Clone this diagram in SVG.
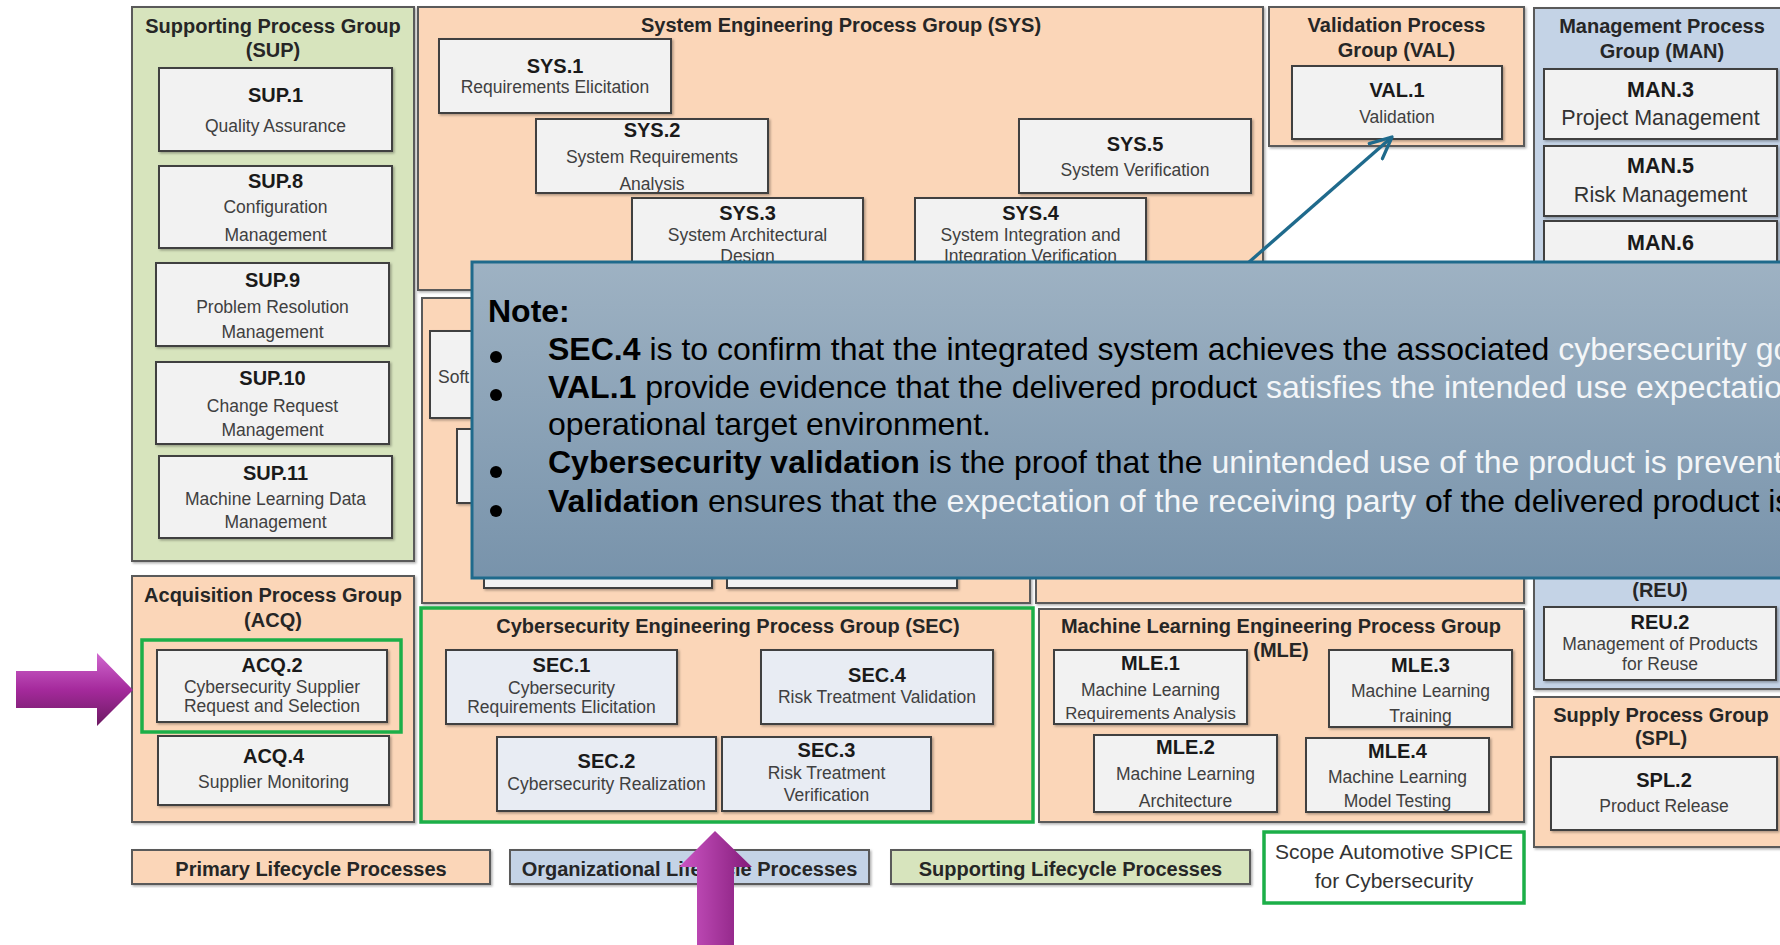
<svg xmlns="http://www.w3.org/2000/svg" width="1780" height="945" viewBox="0 0 1780 945">
  <defs>
    <style>
      .g-peach { fill: #fbd6b8; stroke: #5a5a5a; stroke-width: 2; }
      .g-green { fill: #d7e4bd; stroke: #5a5a5a; stroke-width: 2; }
      .g-blue  { fill: #c4d3e6; stroke: #5a5a5a; stroke-width: 2; }
      .box     { fill: #f2f2f2; stroke: #404040; stroke-width: 2; }
      .box-sec { fill: #e8ecf3; stroke: #404040; stroke-width: 2; }
      .scope   { fill: none; stroke: #1caf48; stroke-width: 3.5; }
      .t-grp   { font-family: "Liberation Sans", Arial, sans-serif; font-weight: bold; font-size: 20px; fill: #262626; text-anchor: middle; }
      .t-id    { font-family: "Liberation Sans", Arial, sans-serif; font-weight: bold; font-size: 20px; fill: #1a1a1a; text-anchor: middle; }
      .t-desc  { font-family: "Liberation Sans", Arial, sans-serif; font-size: 17.5px; fill: #404040; text-anchor: middle; }
      .t-big   { font-family: "Liberation Sans", Arial, sans-serif; font-size: 21.5px; fill: #333333; text-anchor: middle; }
      .t-scope { font-family: "Liberation Sans", Arial, sans-serif; font-size: 21px; fill: #333333; text-anchor: middle; }
      .note-t  { font-family: "Liberation Sans", Arial, sans-serif; font-size: 32px; fill: #000000; }
      .b       { font-weight: bold; }
      .w       { fill: #f4f6f8; }
      .link    { fill: none; stroke: #1f6a8c; stroke-width: 3.3; }
    </style>
    <filter id="shadow" x="-5%" y="-5%" width="110%" height="115%">
      <feDropShadow dx="1.5" dy="1.5" stdDeviation="1" flood-color="#000000" flood-opacity="0.3"/>
    </filter>
    <linearGradient id="noteFill" x1="0" y1="0" x2="0" y2="1">
      <stop offset="0" stop-color="#9eb2c3"/>
      <stop offset="1" stop-color="#7893ab"/>
    </linearGradient>
    <linearGradient id="purpleV" x1="0" y1="0" x2="0" y2="1">
      <stop offset="0" stop-color="#d068cf"/>
      <stop offset="0.5" stop-color="#a52a9c"/>
      <stop offset="1" stop-color="#6c1a62"/>
    </linearGradient>
    <linearGradient id="purpleH" x1="0" y1="0" x2="1" y2="0">
      <stop offset="0" stop-color="#cc55c4"/>
      <stop offset="1" stop-color="#841c7a"/>
    </linearGradient>
    <marker id="openHead" markerUnits="userSpaceOnUse" markerWidth="26" markerHeight="24" viewBox="0 0 26 24" refX="23" refY="12" orient="auto">
      <path d="M1.5,2 L23,12 L1.5,22" fill="none" stroke="#1f6a8c" stroke-width="3.3" stroke-linecap="round" stroke-linejoin="round"/>
    </marker>
  </defs>

  <rect x="0" y="0" width="1780" height="945" fill="#ffffff"/>

  <!-- Supporting process group -->
  <g id="grp-sup">
    <rect class="g-green" x="132" y="7" width="282" height="554" filter="url(#shadow)"/>
    <text class="t-grp" x="273" y="33">Supporting Process Group</text>
    <text class="t-grp" x="273" y="57">(SUP)</text>
  </g>
  <g id="sup1">
    <rect class="box" x="159" y="68" width="233" height="83" filter="url(#shadow)"/>
    <text class="t-id" x="275.5" y="102">SUP.1</text>
    <text class="t-desc" x="275.5" y="132">Quality Assurance</text>
  </g>
  <g id="sup8">
    <rect class="box" x="159" y="166" width="233" height="82" filter="url(#shadow)"/>
    <text class="t-id" x="275.5" y="188">SUP.8</text>
    <text class="t-desc" x="275.5" y="213">Configuration</text>
    <text class="t-desc" x="275.5" y="241">Management</text>
  </g>
  <g id="sup9">
    <rect class="box" x="156" y="263" width="233" height="83" filter="url(#shadow)"/>
    <text class="t-id" x="272.5" y="287">SUP.9</text>
    <text class="t-desc" x="272.5" y="313">Problem Resolution</text>
    <text class="t-desc" x="272.5" y="338">Management</text>
  </g>
  <g id="sup10">
    <rect class="box" x="156" y="362" width="233" height="82" filter="url(#shadow)"/>
    <text class="t-id" x="272.5" y="385">SUP.10</text>
    <text class="t-desc" x="272.5" y="412">Change Request</text>
    <text class="t-desc" x="272.5" y="436">Management</text>
  </g>
  <g id="sup11">
    <rect class="box" x="159" y="456" width="233" height="82" filter="url(#shadow)"/>
    <text class="t-id" x="275.5" y="480">SUP.11</text>
    <text class="t-desc" x="275.5" y="505">Machine Learning Data</text>
    <text class="t-desc" x="275.5" y="528">Management</text>
  </g>

  <!-- Acquisition process group -->
  <g id="grp-acq">
    <rect class="g-peach" x="132" y="576" width="282" height="246" filter="url(#shadow)"/>
    <text class="t-grp" x="273" y="602">Acquisition Process Group</text>
    <text class="t-grp" x="273" y="627">(ACQ)</text>
  </g>
  <g id="acq2">
    <rect class="scope" x="142" y="640" width="259" height="92"/>
    <rect class="box" x="157" y="650" width="230" height="72" filter="url(#shadow)"/>
    <text class="t-id" x="272" y="672">ACQ.2</text>
    <text class="t-desc" x="272" y="693">Cybersecurity Supplier</text>
    <text class="t-desc" x="272" y="712">Request and Selection</text>
  </g>
  <g id="acq4">
    <rect class="box" x="158" y="736" width="231" height="69" filter="url(#shadow)"/>
    <text class="t-id" x="273.5" y="763">ACQ.4</text>
    <text class="t-desc" x="273.5" y="788">Supplier Monitoring</text>
  </g>

  <!-- System engineering process group -->
  <g id="grp-sys">
    <rect class="g-peach" x="418" y="7" width="845" height="283" filter="url(#shadow)"/>
    <text class="t-grp" x="841" y="32">System Engineering Process Group (SYS)</text>
  </g>
  <g id="sys1">
    <rect class="box" x="439" y="39" width="232" height="74" filter="url(#shadow)"/>
    <text class="t-id" x="555" y="73">SYS.1</text>
    <text class="t-desc" x="555" y="93">Requirements Elicitation</text>
  </g>
  <g id="sys2">
    <rect class="box" x="536" y="119" width="232" height="74" filter="url(#shadow)"/>
    <text class="t-id" x="652" y="137">SYS.2</text>
    <text class="t-desc" x="652" y="163">System Requirements</text>
    <text class="t-desc" x="652" y="190">Analysis</text>
  </g>
  <g id="sys3">
    <rect class="box" x="632" y="198" width="231" height="74" filter="url(#shadow)"/>
    <text class="t-id" x="747.5" y="220">SYS.3</text>
    <text class="t-desc" x="747.5" y="241">System Architectural</text>
    <text class="t-desc" x="747.5" y="262">Design</text>
  </g>
  <g id="sys4">
    <rect class="box" x="915" y="198" width="231" height="74" filter="url(#shadow)"/>
    <text class="t-id" x="1030.5" y="220">SYS.4</text>
    <text class="t-desc" x="1030.5" y="241">System Integration and</text>
    <text class="t-desc" x="1030.5" y="262">Integration Verification</text>
  </g>
  <g id="sys5">
    <rect class="box" x="1019" y="119" width="232" height="74" filter="url(#shadow)"/>
    <text class="t-id" x="1135" y="151">SYS.5</text>
    <text class="t-desc" x="1135" y="176">System Verification</text>
  </g>

  <!-- Validation process group -->
  <g id="grp-val">
    <rect class="g-peach" x="1269" y="7" width="255" height="139" filter="url(#shadow)"/>
    <text class="t-grp" x="1396.5" y="32">Validation Process</text>
    <text class="t-grp" x="1396.5" y="57">Group (VAL)</text>
  </g>
  <g id="val1">
    <rect class="box" x="1292" y="66" width="210" height="73" filter="url(#shadow)"/>
    <text class="t-id" x="1397" y="97">VAL.1</text>
    <text class="t-desc" x="1397" y="123">Validation</text>
  </g>

  <!-- Management and reuse process groups -->
  <g id="grp-man">
    <rect class="g-blue" x="1534" y="8" width="260" height="520" filter="url(#shadow)"/>
    <text class="t-grp" x="1662" y="33">Management Process</text>
    <text class="t-grp" x="1662" y="58">Group (MAN)</text>
  </g>
  <g id="man3">
    <rect class="box" x="1544" y="69" width="233" height="70" filter="url(#shadow)"/>
    <text class="t-id" x="1660.5" y="97" style="font-size:21.5px">MAN.3</text>
    <text class="t-big" x="1660.5" y="125">Project Management</text>
  </g>
  <g id="man5">
    <rect class="box" x="1544" y="146" width="233" height="70" filter="url(#shadow)"/>
    <text class="t-id" x="1660.5" y="173" style="font-size:21.5px">MAN.5</text>
    <text class="t-big" x="1660.5" y="202">Risk Management</text>
  </g>
  <g id="man6">
    <rect class="box" x="1544" y="221" width="233" height="70" filter="url(#shadow)"/>
    <text class="t-id" x="1660.5" y="250" style="font-size:21.5px">MAN.6</text>
  </g>
  <g id="grp-reu">
    <rect class="g-blue" x="1534" y="535" width="260" height="154" filter="url(#shadow)"/>
    <text class="t-grp" x="1660" y="597">(REU)</text>
  </g>
  <g id="reu2">
    <rect class="box" x="1544" y="607" width="232" height="73" filter="url(#shadow)"/>
    <text class="t-id" x="1660" y="629">REU.2</text>
    <text class="t-desc" x="1660" y="650">Management of Products</text>
    <text class="t-desc" x="1660" y="670">for Reuse</text>
  </g>

  <!-- Supply process group -->
  <g id="grp-spl">
    <rect class="g-peach" x="1534" y="697" width="260" height="150" filter="url(#shadow)"/>
    <text class="t-grp" x="1661" y="722">Supply Process Group</text>
    <text class="t-grp" x="1661" y="745">(SPL)</text>
  </g>
  <g id="spl2">
    <rect class="box" x="1551" y="757" width="226" height="73" filter="url(#shadow)"/>
    <text class="t-id" x="1664" y="787">SPL.2</text>
    <text class="t-desc" x="1664" y="812">Product Release</text>
  </g>

  <!-- Software / hardware engineering groups (mostly under the note) -->
  <g id="grp-swe">
    <rect class="g-peach" x="422" y="298" width="608" height="305" filter="url(#shadow)"/>
  </g>
  <g id="swe1">
    <rect class="box" x="430" y="331" width="232" height="87" filter="url(#shadow)"/>
    <text class="t-desc" x="438" y="383" style="text-anchor:start">Soft</text>
  </g>
  <g id="swe2">
    <rect class="box" x="457" y="429" width="232" height="74" filter="url(#shadow)"/>
  </g>
  <g id="swe-a">
    <rect class="box" x="484" y="510" width="228" height="78" filter="url(#shadow)"/>
  </g>
  <g id="swe-b">
    <rect class="box" x="727" y="510" width="230" height="78" filter="url(#shadow)"/>
  </g>
  <g id="grp-hwe">
    <rect class="g-peach" x="1036" y="298" width="488" height="305" filter="url(#shadow)"/>
  </g>

  <!-- Cybersecurity engineering process group -->
  <g id="grp-sec">
    <rect class="g-peach" x="421" y="608" width="612" height="214"/>
    <rect class="scope" x="421" y="608" width="612" height="214"/>
    <text class="t-grp" x="728" y="633">Cybersecurity Engineering Process Group (SEC)</text>
  </g>
  <g id="sec1">
    <rect class="box-sec" x="446" y="650" width="231" height="74" filter="url(#shadow)"/>
    <text class="t-id" x="561.5" y="672">SEC.1</text>
    <text class="t-desc" x="561.5" y="694">Cybersecurity</text>
    <text class="t-desc" x="561.5" y="713">Requirements Elicitation</text>
  </g>
  <g id="sec4">
    <rect class="box-sec" x="761" y="650" width="232" height="74" filter="url(#shadow)"/>
    <text class="t-id" x="877" y="682">SEC.4</text>
    <text class="t-desc" x="877" y="703">Risk Treatment Validation</text>
  </g>
  <g id="sec2">
    <rect class="box-sec" x="497" y="737" width="219" height="74" filter="url(#shadow)"/>
    <text class="t-id" x="606.5" y="768">SEC.2</text>
    <text class="t-desc" x="606.5" y="790">Cybersecurity Realization</text>
  </g>
  <g id="sec3">
    <rect class="box-sec" x="722" y="737" width="209" height="74" filter="url(#shadow)"/>
    <text class="t-id" x="826.5" y="757">SEC.3</text>
    <text class="t-desc" x="826.5" y="779">Risk Treatment</text>
    <text class="t-desc" x="826.5" y="801">Verification</text>
  </g>

  <!-- Machine learning engineering process group -->
  <g id="grp-mle">
    <rect class="g-peach" x="1039" y="609" width="485" height="213" filter="url(#shadow)"/>
    <text class="t-grp" x="1281" y="633">Machine Learning Engineering Process Group</text>
    <text class="t-grp" x="1281" y="657">(MLE)</text>
  </g>
  <g id="mle1">
    <rect class="box" x="1054" y="650" width="193" height="74" filter="url(#shadow)"/>
    <text class="t-id" x="1150.5" y="670">MLE.1</text>
    <text class="t-desc" x="1150.5" y="696">Machine Learning</text>
    <text class="t-desc" x="1150.5" y="719" style="font-size:16.8px">Requirements Analysis</text>
  </g>
  <g id="mle3">
    <rect class="box" x="1329" y="650" width="183" height="77" filter="url(#shadow)"/>
    <text class="t-id" x="1420.5" y="672">MLE.3</text>
    <text class="t-desc" x="1420.5" y="697">Machine Learning</text>
    <text class="t-desc" x="1420.5" y="722">Training</text>
  </g>
  <g id="mle2">
    <rect class="box" x="1094" y="735" width="183" height="77" filter="url(#shadow)"/>
    <text class="t-id" x="1185.5" y="754">MLE.2</text>
    <text class="t-desc" x="1185.5" y="780">Machine Learning</text>
    <text class="t-desc" x="1185.5" y="807">Architecture</text>
  </g>
  <g id="mle4">
    <rect class="box" x="1306" y="738" width="183" height="74" filter="url(#shadow)"/>
    <text class="t-id" x="1397.5" y="758">MLE.4</text>
    <text class="t-desc" x="1397.5" y="783">Machine Learning</text>
    <text class="t-desc" x="1397.5" y="807">Model Testing</text>
  </g>

  <!-- Legend -->
  <g id="legend-primary">
    <rect class="g-peach" x="132" y="850" width="358" height="34" filter="url(#shadow)"/>
    <text class="t-grp" x="311" y="876">Primary Lifecycle Processes</text>
  </g>
  <g id="legend-organizational">
    <rect class="g-blue" x="510" y="850" width="359" height="34" filter="url(#shadow)"/>
    <text class="t-grp" x="689.5" y="876">Organizational Lifecycle Processes</text>
  </g>
  <g id="legend-supporting">
    <rect class="g-green" x="891" y="850" width="359" height="34" filter="url(#shadow)"/>
    <text class="t-grp" x="1070.5" y="876">Supporting Lifecycle Processes</text>
  </g>
  <g id="legend-scope">
    <rect x="1264" y="832" width="260" height="71" fill="#ffffff"/>
    <rect class="scope" x="1264" y="832" width="260" height="71"/>
    <text class="t-scope" x="1394" y="859">Scope Automotive SPICE</text>
    <text class="t-scope" x="1394" y="888">for Cybersecurity</text>
  </g>

  <!-- Connectors -->
  <g id="connectors">
    <line class="link" x1="1248" y1="263" x2="1392" y2="137" marker-end="url(#openHead)"/>
  </g>

  <!-- Note callout -->
  <g id="note">
    <rect x="472" y="262" width="1320" height="316" fill="url(#noteFill)" stroke="#1f6a8c" stroke-width="3"/>
    <text class="note-t b" x="488" y="322">Note:</text>
    <circle cx="496" cy="357" r="6" fill="#000000"/>
    <circle cx="496" cy="395" r="6" fill="#000000"/>
    <circle cx="496" cy="472" r="6" fill="#000000"/>
    <circle cx="496" cy="511" r="6" fill="#000000"/>
    <text class="note-t" x="548" y="360"><tspan class="b">SEC.4</tspan> is to confirm that the integrated system achieves the associated <tspan class="w">cybersecurity goals.</tspan></text>
    <text class="note-t" x="548" y="398"><tspan class="b">VAL.1</tspan> provide evidence that the delivered product <tspan class="w">satisfies the intended use expectations</tspan></text>
    <text class="note-t" x="548" y="435">operational target environment.</text>
    <text class="note-t" x="548" y="473"><tspan class="b">Cybersecurity validation</tspan> is the proof that the <tspan class="w">unintended use of the product is prevented.</tspan></text>
    <text class="note-t" x="548" y="512"><tspan class="b">Validation</tspan> ensures that the <tspan class="w">expectation of the receiving party</tspan> of the delivered product is</text>
  </g>

  <!-- Highlight arrows -->
  <g id="arrow-acq">
    <polygon points="16,671 97,671 97,653 133,690 97,726 97,708 16,708" fill="url(#purpleV)"/>
  </g>
  <g id="arrow-sec">
    <polygon points="697,950 697,867 679,867 715,831 752,867 734,867 734,950" fill="url(#purpleH)"/>
  </g>
</svg>
